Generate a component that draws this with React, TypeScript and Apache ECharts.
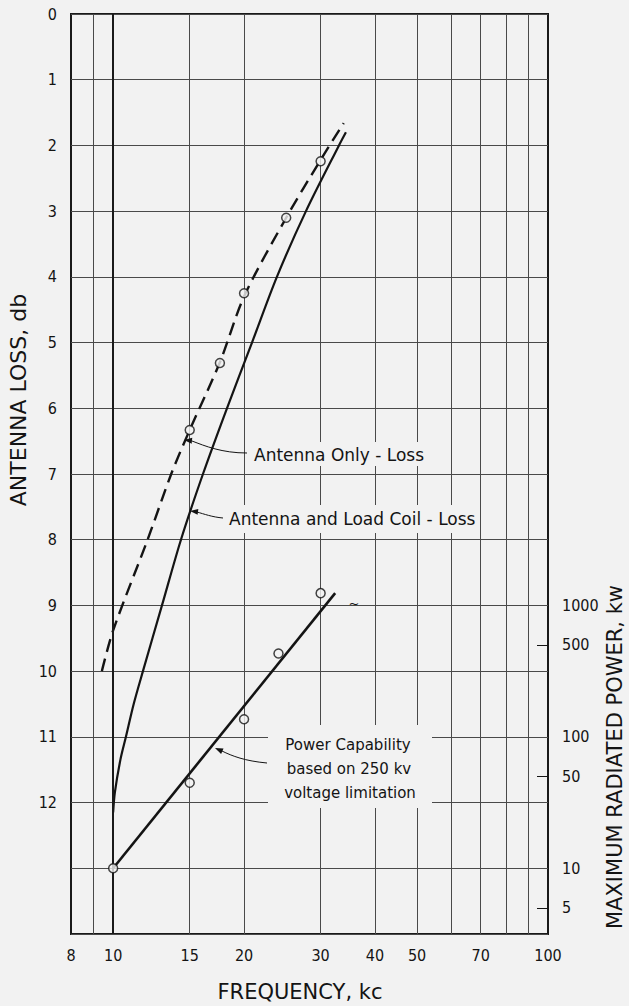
import React, { useEffect, useRef } from "react";
import * as echarts from "echarts";

// ---- data ----
const X_GRID = [9, 10, 15, 20, 30, 40, 50, 60, 70, 80, 90];
const X_LABELS = [8, 10, 15, 20, 30, 40, 50, 70, 100];
const LOSS_LABEL_MAX = 12;
const POWER_LABELS = [5, 10, 50, 100, 500, 1000];
const POWER_TICKS = [5, 50, 500];

// Antenna only - loss (dashed curve), [kc, db]
const antennaOnlyCurve = [
  [9.42, 10.0], [10, 9.38], [12, 8.0], [13.6, 7.0], [15, 6.33],
  [17.6, 5.3], [20, 4.3], [25, 3.1], [30, 2.22], [33.9, 1.66],
];
const antennaOnlyPoints = [[15, 6.33], [17.6, 5.31], [20, 4.25], [25, 3.1], [30, 2.24]];

// Antenna and load coil - loss (solid curve), [kc, db]
const loadCoilCurve = [
  [10, 12.15], [10.09, 11.85], [10.39, 11.35], [10.7, 11], [11.15, 10.5], [11.71, 10],
  [12.95, 9], [14.32, 8], [16.09, 7], [18.27, 6], [20.86, 5], [23.8, 4],
  [27.76, 3], [33.06, 2], [34.3, 1.8],
];

// Power capability, [kc, kW]
const powerLine = [[10, 10], [32.4, 1240]];
const powerPoints = [[10, 10], [15, 44.7], [20, 136], [24, 431], [30, 1240]];

const BG = "#f2f2f2";
const INK = "#141414";
const DIGIT_FONT = "'Liberation Sans Narrow', 'DejaVu Sans Condensed', sans-serif";
const TEXT_FONT = "'DejaVu Sans', sans-serif";

function arrow(tipX: number, tipY: number, fromX: number, fromY: number, len = 8, half = 3) {
  const dx = tipX - fromX, dy = tipY - fromY;
  const d = Math.hypot(dx, dy);
  const ux = dx / d, uy = dy / d;
  const bx = tipX - ux * len, by = tipY - uy * len;
  return {
    type: "polygon",
    z: 12,
    shape: { points: [[tipX, tipY], [bx - uy * half, by + ux * half], [bx + uy * half, by - ux * half]] },
    style: { fill: INK },
  };
}

function leader(x1: number, y1: number, c1x: number, c1y: number, c2x: number, c2y: number, x2: number, y2: number) {
  return {
    type: "bezierCurve",
    z: 12,
    shape: { x1, y1, cpx1: c1x, cpy1: c1y, cpx2: c2x, cpy2: c2y, x2, y2 },
    style: { stroke: INK, lineWidth: 1, fill: "none" },
  };
}

function bgRect(x: number, y: number, w: number, h: number) {
  return { type: "rect", z: 10, shape: { x, y, width: w, height: h }, style: { fill: BG } };
}

function txt(x: number, y: number, text: string, size: number, align = "left", rotation = 0) {
  return {
    type: "text",
    z: 13,
    x,
    y,
    rotation,
    style: {
      text,
      fontSize: size,
      fontFamily: TEXT_FONT,
      fill: INK,
      align,
      verticalAlign: "middle",
    },
  };
}

export default function App() {
  const ref = useRef<HTMLDivElement>(null);
  useEffect(() => {
    if (!ref.current) return;
    const chart = echarts.init(ref.current, null, { renderer: "svg" });
    const gridLine = { color: "#4a4a4a", width: 1 };
    const labelStyle = { fontFamily: DIGIT_FONT, fontSize: 16, color: INK };
    const circle = { color: BG, borderColor: INK, borderWidth: 1.5 };
    chart.setOption({
      animation: false,
      backgroundColor: BG,
      grid: {
        left: 71, top: 14, right: 81, bottom: 72,
        show: true, borderColor: "#1a1a1a", borderWidth: 2, backgroundColor: "transparent",
        containLabel: false, outerBoundsMode: "none",
      },
      xAxis: {
        type: "log", logBase: 10, min: 8, max: 100,
        axisLine: { show: false },
        axisTick: { show: false, customValues: X_GRID },
        axisLabel: { ...labelStyle, customValues: X_LABELS, margin: 13 },
        splitLine: { show: true, lineStyle: gridLine },
      },
      yAxis: [
        {
          type: "value", inverse: true, min: 0, max: 14, interval: 1,
          axisLine: { show: false },
          axisTick: { show: false },
          axisLabel: { ...labelStyle, margin: 14, formatter: (v: number) => (v <= LOSS_LABEL_MAX ? String(v) : "") },
          splitLine: { show: true, lineStyle: gridLine },
        },
        {
          type: "log", logBase: 10, position: "right",
          min: Math.pow(10, 0.5), max: Math.pow(10, 7.5),
          axisLine: { show: false },
          axisTick: { show: true, inside: true, length: 11, customValues: POWER_TICKS, lineStyle: { color: INK, width: 1 } },
          axisLabel: { ...labelStyle, customValues: POWER_LABELS, margin: 14, align: "left", formatter: (v: number) => String(Math.round(v)) },
          splitLine: { show: false },
        },
      ],
      series: [
        {
          name: "Antenna Only - Loss",
          type: "line", xAxisIndex: 0, yAxisIndex: 0,
          data: antennaOnlyCurve, smooth: 0.3, showSymbol: false, z: 3,
          lineStyle: { color: INK, width: 2.4, type: [13, 7] },
          markLine: {
            silent: true, symbol: "none", label: { show: false },
            lineStyle: { color: "#1a1a1a", width: 2, type: "solid" },
            data: [{ xAxis: 10 }],
          },
        },
        {
          name: "Antenna Only measured",
          type: "scatter", xAxisIndex: 0, yAxisIndex: 0,
          data: antennaOnlyPoints, symbol: "circle", symbolSize: 9, itemStyle: circle, z: 5,
        },
        {
          name: "Antenna and Load Coil - Loss",
          type: "line", xAxisIndex: 0, yAxisIndex: 0,
          data: loadCoilCurve, smooth: 0.3, showSymbol: false, z: 3,
          lineStyle: { color: INK, width: 2.2 },
        },
        {
          name: "Power Capability",
          type: "line", xAxisIndex: 0, yAxisIndex: 1,
          data: powerLine, showSymbol: false, z: 3,
          lineStyle: { color: INK, width: 2.6 },
        },
        {
          name: "Power measured",
          type: "scatter", xAxisIndex: 0, yAxisIndex: 1,
          data: powerPoints, symbol: "circle", symbolSize: 9, itemStyle: circle, z: 5,
        },
      ],
      graphic: [
        // text backgrounds (break gridlines)
        bgRect(250, 442, 176, 24),
        bgRect(225, 505, 252, 28),
        bgRect(268, 725, 164, 83),
        txt(254, 455, "Antenna Only - Loss", 17),
        txt(229, 519, "Antenna and Load Coil - Loss", 17),
        txt(348, 745, "Power Capability", 15, "center"),
        txt(349, 769, "based on 250 kv", 15, "center"),
        txt(350, 793, "voltage limitation", 15, "center"),
        leader(247, 453, 222, 453, 205, 446, 192, 441),
        arrow(184, 440, 194, 441),
        leader(223, 518, 212, 517, 204, 514, 197, 512),
        arrow(190, 511, 199, 512),
        leader(267, 763, 245, 761, 232, 756, 222, 751),
        arrow(215, 748, 224, 752),
        txt(354, 603, "~", 13, "center"),
        // axis titles
        txt(18, 400, "ANTENNA LOSS, db", 22, "center", Math.PI / 2),
        txt(615, 757, "MAXIMUM RADIATED POWER, kw", 21, "center", Math.PI / 2),
        txt(300, 992, "FREQUENCY, kc", 21, "center"),
      ],
    });
    return () => chart.dispose();
  }, []);
  return (
    <div
      ref={ref}
      style={{ position: "absolute", left: 0, top: 0, width: 629, height: 1006 }}
    />
  );
}
